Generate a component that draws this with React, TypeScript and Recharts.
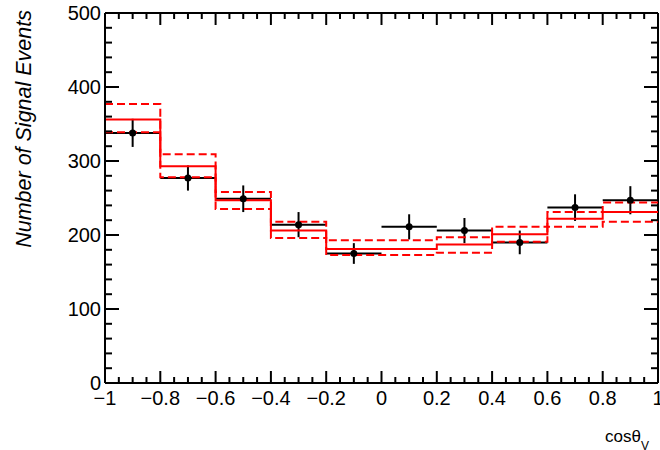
import { ComposedChart, Line, Scatter, ErrorBar, XAxis, YAxis, ReferenceLine } from 'recharts'

// bins in cos(theta_V)
const BIN_EDGES = [-1, -0.8, -0.6, -0.4, -0.2, 0, 0.2, 0.4, 0.6, 0.8, 1]
const BIN_CENTERS = [-0.9, -0.7, -0.5, -0.3, -0.1, 0.1, 0.3, 0.5, 0.7, 0.9]
const BIN_HALF_WIDTH = 0.1

// fitted shape (solid) and its +-1 sigma band (dashed)
const FIT_CENTRAL = [356, 293, 247, 206, 181, 181, 187, 201, 222, 231]
const FIT_UPPER = [377, 309, 258, 218, 193, 193, 197, 211, 231, 244]
const FIT_LOWER = [339, 278, 235, 196, 173, 173, 176, 191, 211, 218]

// measured signal yields
const DATA_COUNTS = [338, 277, 249, 214, 175, 211, 206, 190, 237, 247]
const DATA_ERRORS = [19, 17, 18, 17, 14, 17, 17, 16, 18, 19]

const X_MAJOR_TICKS = [-1, -0.8, -0.6, -0.4, -0.2, 0, 0.2, 0.4, 0.6, 0.8, 1]
const Y_MAJOR_TICKS = [0, 100, 200, 300, 400, 500]

const W = 660
const H = 450
const PLOT_LEFT = 105
const PLOT_RIGHT = 658
const PLOT_TOP = 13
const PLOT_BOTTOM = 383
const FONT = '"Liberation Sans", Arial, Helvetica, sans-serif'

const xTicks: number[] = []
for (let i = 0; i < X_MAJOR_TICKS.length - 1; i++) {
    for (let k = 0; k < 4; k++) xTicks.push(Math.round((X_MAJOR_TICKS[i] + k * 0.05) * 100) / 100)
}
xTicks.push(X_MAJOR_TICKS[X_MAJOR_TICKS.length - 1])

const yTicks: number[] = []
for (let i = 0; i < Y_MAJOR_TICKS.length - 1; i++) {
    for (let k = 0; k < 5; k++) yTicks.push(Y_MAJOR_TICKS[i] + k * 20)
}
yTicks.push(Y_MAJOR_TICKS[Y_MAJOR_TICKS.length - 1])

const histData = BIN_EDGES.map((x, i) => {
    const j = Math.min(i, FIT_CENTRAL.length - 1)
    return { x, central: FIT_CENTRAL[j], upper: FIT_UPPER[j], lower: FIT_LOWER[j] }
})

const pointData = BIN_CENTERS.map((x, i) => ({
    x,
    y: DATA_COUNTS[i],
    yErr: DATA_ERRORS[i],
    xErr: BIN_HALF_WIDTH,
}))

const fmtX = (v: number) => (v < 0 ? '\u2212' + String(-v) : String(v))

function XTick(props: any) {
    const v = props.payload.value as number
    const cx = props.x
    const major = X_MAJOR_TICKS.some((m) => Math.abs(m - v) < 1e-6)
    const len = major ? 12 : 6
    return (
        <g>
            <line x1={cx} x2={cx} y1={PLOT_BOTTOM} y2={PLOT_BOTTOM - len} stroke="#000" strokeWidth={2} />
            <line x1={cx} x2={cx} y1={PLOT_TOP} y2={PLOT_TOP + len} stroke="#000" strokeWidth={2} />
            {major && (
                <text x={cx} y={PLOT_BOTTOM + 22} textAnchor="middle" fontSize={20} fontFamily={FONT} fill="#000">
                    {fmtX(v)}
                </text>
            )}
        </g>
    )
}

function YTick(props: any) {
    const v = props.payload.value as number
    const cy = props.y
    const major = v % 100 === 0
    const len = major ? 14 : 7
    return (
        <g>
            <line x1={PLOT_LEFT} x2={PLOT_LEFT + len} y1={cy} y2={cy} stroke="#000" strokeWidth={2} />
            <line x1={PLOT_RIGHT} x2={PLOT_RIGHT - len} y1={cy} y2={cy} stroke="#000" strokeWidth={2} />
            {major && (
                <text x={PLOT_LEFT - 4} y={cy + 7} textAnchor="end" fontSize={20} fontFamily={FONT} fill="#000">
                    {v}
                </text>
            )}
        </g>
    )
}

function YTitle() {
    return (
        <text
            x={31}
            y={10}
            transform="rotate(-90, 31, 10)"
            textAnchor="end"
            fontSize={21.5}
            fontStyle="italic"
            fontFamily={FONT}
            fill="#000"
        >
            Number of Signal Events
        </text>
    )
}

function XTitle() {
    return (
        <text x={605} y={442} fontSize={17} fontFamily={FONT} fill="#000">
            cosθ
            <tspan fontSize={12} dy={8}>
                V
            </tspan>
        </text>
    )
}

const Dot = (props: any) => <circle cx={props.cx} cy={props.cy} r={3.5} fill="#000" />

export default function App() {
    return (
        <div style={{ position: 'absolute', left: 0, top: 0, width: W, height: H, background: '#fff' }}>
            <ComposedChart
                width={W}
                height={H}
                data={histData}
                margin={{ top: PLOT_TOP, right: W - PLOT_RIGHT, left: 0, bottom: 0 }}
            >
                <XAxis
                    type="number"
                    dataKey="x"
                    domain={[-1, 1]}
                    ticks={xTicks}
                    interval={0}
                    tick={<XTick />}
                    tickLine={false}
                    axisLine={{ stroke: '#000', strokeWidth: 2 }}
                    height={H - PLOT_BOTTOM}
                    allowDataOverflow
                    label={<XTitle />}
                />
                <YAxis
                    type="number"
                    domain={[0, 500]}
                    ticks={yTicks}
                    interval={0}
                    tick={<YTick />}
                    tickLine={false}
                    axisLine={{ stroke: '#000', strokeWidth: 2 }}
                    width={PLOT_LEFT}
                    allowDataOverflow
                    label={<YTitle />}
                />
                <ReferenceLine y={500} stroke="#000" strokeWidth={2} />
                <ReferenceLine x={1} stroke="#000" strokeWidth={2} />
                <Scatter data={pointData} dataKey="y" shape={<Dot />} isAnimationActive={false}>
                    <ErrorBar dataKey="xErr" direction="x" width={0} stroke="#000" strokeWidth={2} />
                    <ErrorBar dataKey="yErr" direction="y" width={0} stroke="#000" strokeWidth={2} />
                </Scatter>
                <Line type="stepAfter" dataKey="upper" stroke="#ff0000" strokeWidth={2} strokeDasharray="8 4" dot={false} isAnimationActive={false} />
                <Line type="stepAfter" dataKey="lower" stroke="#ff0000" strokeWidth={2} strokeDasharray="8 4" dot={false} isAnimationActive={false} />
                <Line type="stepAfter" dataKey="central" stroke="#ff0000" strokeWidth={2} dot={false} isAnimationActive={false} />
            </ComposedChart>
        </div>
    )
}
